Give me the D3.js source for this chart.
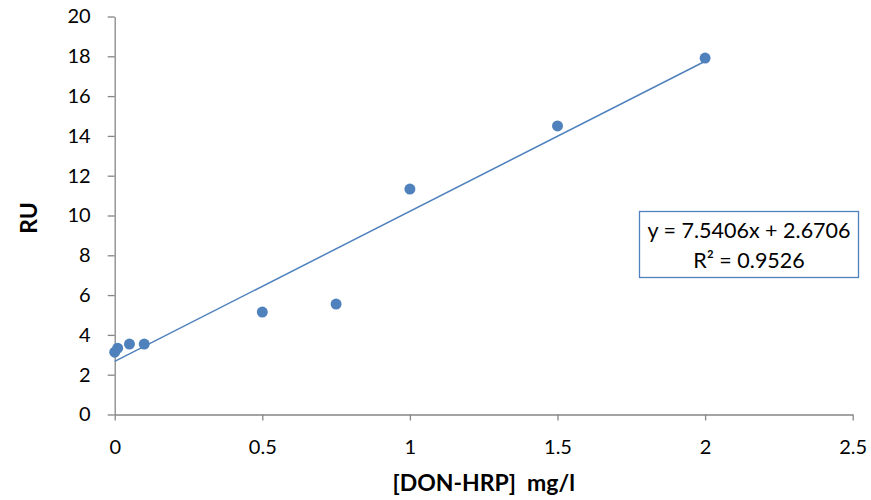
<!DOCTYPE html>
<html><head><meta charset="utf-8">
<script src="https://cdn.jsdelivr.net/npm/d3@7"></script>
<style>body{margin:0;background:#fff}svg{display:block}</style>
</head><body>
<script>
const xValues = [0, 0.01, 0.05, 0.1, 0.5, 0.75, 1, 1.5, 2];
const yValues = [3.13, 3.33, 3.54, 3.54, 5.15, 5.55, 11.33, 14.5, 17.91];
const slope = 7.5406, intercept = 2.6706;
const eqLines = ["y = 7.5406x + 2.6706", "R² = 0.9526"];
const xTicks = [0, 0.5, 1, 1.5, 2, 2.5];
const yTicks = [0, 2, 4, 6, 8, 10, 12, 14, 16, 18, 20];
const xTitle = "[DON-HRP]  mg/l", yTitle = "RU";

const W = 871, H = 500;
const font = "Lato, 'Liberation Sans', sans-serif";
const svg = d3.select("body").append("svg").attr("width", W).attr("height", H);
const x = d3.scaleLinear().domain([0, 2.5]).range([114.7, 852.7]);
const y = d3.scaleLinear().domain([0, 20]).range([414.5, 16.5]);
const blue = "#4F81BD", gray = "#868686";

const xa = svg.append("g").attr("transform", `translate(0,${y(0)})`)
  .call(d3.axisBottom(x).tickValues(xTicks).tickFormat(d => d).tickSize(6).tickSizeOuter(0).tickPadding(19));
const ya = svg.append("g").attr("transform", `translate(${x(0)},0)`)
  .call(d3.axisLeft(y).tickValues(yTicks).tickSize(7).tickSizeOuter(0).tickPadding(17));
[xa, ya].forEach(a => {
  a.selectAll("path,line").attr("stroke", gray).attr("stroke-width", 1.3);
  a.selectAll("text").attr("font-family", font).attr("font-size", 20).attr("fill", "#000");
});

const xs = d3.extent(xValues);
svg.append("line").attr("x1", x(xs[0])).attr("y1", y(slope * xs[0] + intercept))
  .attr("x2", x(xs[1])).attr("y2", y(slope * xs[1] + intercept))
  .attr("stroke", blue).attr("stroke-width", 1.5);

svg.append("g").selectAll("circle").data(xValues.map((v, i) => [v, yValues[i]])).join("circle")
  .attr("cx", d => x(d[0])).attr("cy", d => y(d[1])).attr("r", 5.5).attr("fill", blue);

svg.append("rect").attr("x", 639.5).attr("y", 211.5).attr("width", 219).attr("height", 66)
  .attr("fill", "#fff").attr("stroke", blue).attr("stroke-width", 1.3);
eqLines.forEach((t, i) => svg.append("text").attr("x", 749).attr("y", 238 + i * 30)
  .attr("text-anchor", "middle").attr("font-family", font).attr("font-size", 21.5).text(t));

svg.append("text").attr("x", 483.7).attr("y", 491).attr("text-anchor", "middle")
  .attr("font-family", font).attr("font-size", 23).attr("font-weight", "bold").style("white-space", "pre").text(xTitle);
svg.append("text").attr("transform", "translate(37,218) rotate(-90)").attr("text-anchor", "middle")
  .attr("font-family", font).attr("font-size", 23).attr("font-weight", "bold").text(yTitle);
</script>
</body></html>
